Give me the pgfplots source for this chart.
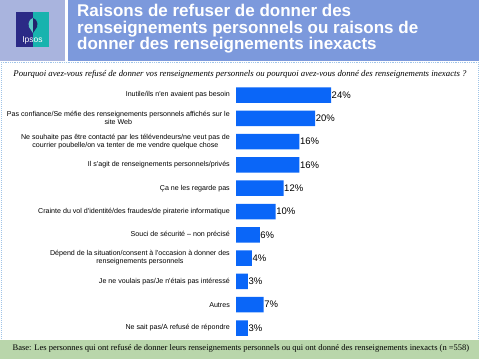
\documentclass[border=0pt]{standalone}
\usepackage{pgfplots}
\pgfplotsset{compat=1.18}
\usepackage{fontspec}
\setmainfont{Liberation Serif}
\newfontfamily\arial{Liberation Sans}
\definecolor{leftbox}{HTML}{A9B4DE}
\definecolor{titlebox}{HTML}{7C99DC}
\definecolor{barblue}{HTML}{0A66F8}
\definecolor{basegreen}{HTML}{B9D6AB}
\definecolor{navy}{HTML}{2B2A86}
\definecolor{teal}{HTML}{18B3AE}
\definecolor{borderblue}{HTML}{9FC4E8}
\pgfplotstableread{
idx val
0 24
1 20
2 16
3 16
4 12
5 10
6 6
7 4
8 3
9 7
10 3
}\datatable
\begin{document}
\begin{tikzpicture}
\begin{scope}[x=1pt,y=-1pt]
\path[use as bounding box] (0,0) rectangle (479,359);
\fill[white] (0,0) rectangle (479,359);
% header
\fill[leftbox] (0,0) rectangle (65,61);
\fill[titlebox] (68,0) rectangle (479,61);
% logo
\fill[navy] (16,12) rectangle (33,47);
\fill[teal] (33,12) rectangle (49,47);
\fill[teal!70!white] (33,18) .. controls (28,19) and (27,27) .. (31,30) -- (33,33) -- cycle;
\fill[navy!80!black] (33,18) .. controls (38,19) and (39,27) .. (35,30) -- (33,33) -- cycle;
\node[anchor=south, text=white, font=\arial\fontsize{8.5}{9}\selectfont, inner sep=0pt] at (32.5,44.5) {Ipsos};
% title
\node[anchor=north west, align=left, text=white, inner sep=0pt, font=\arial\bfseries\fontsize{17}{16.5}\selectfont] at (77,4)
 {Raisons de refuser de donner des\\renseignements personnels ou raisons de\\donner des renseignements inexacts};
% border
\draw[borderblue, densely dotted, line width=1pt] (1,62) -- (1,341);
\draw[borderblue, densely dotted, line width=1pt] (478,62) -- (478,341);
\draw[borderblue, densely dotted, line width=0.8pt] (1,62.5) -- (478,62.5);
% question
\node[anchor=center, inner sep=0pt, font=\itshape\fontsize{8.75}{9}\selectfont] at (240,74)
 {Pourquoi avez-vous refusé de donner vos renseignements personnels ou pourquoi avez-vous donné des renseignements inexacts ?};
% base band
\fill[basegreen] (0,340) rectangle (479,359);
\node[anchor=center, inner sep=0pt, font=\fontsize{8.5}{9}\selectfont] at (241,348)
 {Base: Les personnes qui ont refusé de donner leurs renseignements personnels ou qui ont donné des renseignements inexacts (n =558)};
\end{scope}
% chart
\begin{axis}[
  at={(236pt,-339.65pt)}, anchor=south west,
  scale only axis, width=118.8pt, height=256.3pt,
  xbar, bar width=15.5pt,
  xmin=0, xmax=30, ymin=-0.5, ymax=10.5, y dir=reverse,
  axis x line=none,
  axis y line*=left, y axis line style={draw=none},
  ytick=data, major tick length=0pt,
  yticklabels={
    {Inutile/ils n'en avaient pas besoin},
    {Pas confiance/Se méfie des renseignements personnels affichés sur le\\site Web},
    {Ne souhaite pas être contacté par les télévendeurs/ne veut pas de\\courrier poubelle/on va tenter de me vendre quelque chose},
    {Il s'agit de renseignements personnels/privés},
    {Ça ne les regarde pas},
    {Crainte du vol d'identité/des fraudes/de piraterie informatique},
    {Souci de sécurité – non précisé},
    {Dépend de la situation/consent à l'occasion à donner des\\renseignements personnels},
    {Je ne voulais pas/Je n'étais pas intéressé},
    {Autres},
    {Ne sait pas/A refusé de répondre}},
  yticklabel style={anchor=east, align=center, inner sep=0pt, xshift=-6pt,
    font=\arial\fontsize{7.1}{8}\selectfont},
  point meta=x,
  nodes near coords={\pgfmathprintnumber[assume math mode=true]{\pgfplotspointmeta}\%},
  nodes near coords style={anchor=west, inner sep=0.5pt, font=\arial\fontsize{9.5}{10}\selectfont},
  clip=false,
]
\addplot[fill=barblue, draw=none] table[x=val, y=idx] {\datatable};
\end{axis}
\end{tikzpicture}
\end{document}
